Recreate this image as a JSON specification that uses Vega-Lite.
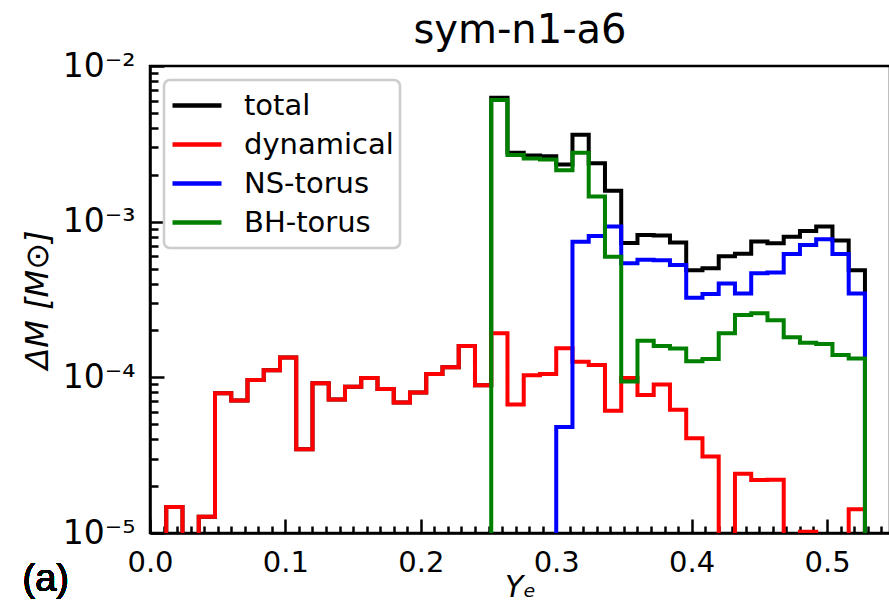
{
  "$schema": "https://vega.github.io/schema/vega-lite/v6.json",
  "width": 740,
  "height": 467,
  "autosize": "none",
  "padding": {"left": 150, "top": 66, "right": 0, "bottom": 70},
  "background": "white",
  "title": {"text": "sym-n1-a6", "font": "DejaVu Sans", "fontSize": 40, "fontWeight": "normal", "color": "black", "anchor": "middle", "offset": -1},
  "config": {"view": {"stroke": "black", "strokeWidth": 2.5}, "font": "DejaVu Sans"},
  "resolve": {"axis": {"x": "independent", "y": "independent"}},
  "data": {"values": [
    {"Ye": 0.0, "total": 1e-7, "dynamical": 1e-7, "NS-torus": 1e-7, "BH-torus": 1e-7},
    {"Ye": 0.012, "total": 1.47e-5, "dynamical": 1.47e-5, "NS-torus": 1e-7, "BH-torus": 1e-7},
    {"Ye": 0.024, "total": 1e-7, "dynamical": 1e-7, "NS-torus": 1e-7, "BH-torus": 1e-7},
    {"Ye": 0.036, "total": 1.27e-5, "dynamical": 1.27e-5, "NS-torus": 1e-7, "BH-torus": 1e-7},
    {"Ye": 0.048, "total": 7.9e-5, "dynamical": 7.9e-5, "NS-torus": 1e-7, "BH-torus": 1e-7},
    {"Ye": 0.06, "total": 7.1e-5, "dynamical": 7.1e-5, "NS-torus": 1e-7, "BH-torus": 1e-7},
    {"Ye": 0.072, "total": 9.6e-5, "dynamical": 9.6e-5, "NS-torus": 1e-7, "BH-torus": 1e-7},
    {"Ye": 0.084, "total": 1.11e-4, "dynamical": 1.11e-4, "NS-torus": 1e-7, "BH-torus": 1e-7},
    {"Ye": 0.096, "total": 1.34e-4, "dynamical": 1.34e-4, "NS-torus": 1e-7, "BH-torus": 1e-7},
    {"Ye": 0.108, "total": 3.45e-5, "dynamical": 3.45e-5, "NS-torus": 1e-7, "BH-torus": 1e-7},
    {"Ye": 0.12, "total": 9.15e-5, "dynamical": 9.15e-5, "NS-torus": 1e-7, "BH-torus": 1e-7},
    {"Ye": 0.132, "total": 7.2e-5, "dynamical": 7.2e-5, "NS-torus": 1e-7, "BH-torus": 1e-7},
    {"Ye": 0.144, "total": 8.7e-5, "dynamical": 8.7e-5, "NS-torus": 1e-7, "BH-torus": 1e-7},
    {"Ye": 0.156, "total": 9.9e-5, "dynamical": 9.9e-5, "NS-torus": 1e-7, "BH-torus": 1e-7},
    {"Ye": 0.168, "total": 8.4e-5, "dynamical": 8.4e-5, "NS-torus": 1e-7, "BH-torus": 1e-7},
    {"Ye": 0.18, "total": 6.9e-5, "dynamical": 6.9e-5, "NS-torus": 1e-7, "BH-torus": 1e-7},
    {"Ye": 0.192, "total": 8.0e-5, "dynamical": 8.0e-5, "NS-torus": 1e-7, "BH-torus": 1e-7},
    {"Ye": 0.204, "total": 1.05e-4, "dynamical": 1.05e-4, "NS-torus": 1e-7, "BH-torus": 1e-7},
    {"Ye": 0.216, "total": 1.16e-4, "dynamical": 1.16e-4, "NS-torus": 1e-7, "BH-torus": 1e-7},
    {"Ye": 0.228, "total": 1.59e-4, "dynamical": 1.59e-4, "NS-torus": 1e-7, "BH-torus": 1e-7},
    {"Ye": 0.24, "total": 8.9e-5, "dynamical": 8.9e-5, "NS-torus": 1e-7, "BH-torus": 1e-7},
    {"Ye": 0.252, "total": 6.25e-3, "dynamical": 1.92e-4, "NS-torus": 1e-7, "BH-torus": 6.05e-3},
    {"Ye": 0.264, "total": 2.77e-3, "dynamical": 6.7e-5, "NS-torus": 1e-7, "BH-torus": 2.68e-3},
    {"Ye": 0.276, "total": 2.66e-3, "dynamical": 1.03e-4, "NS-torus": 1e-7, "BH-torus": 2.55e-3},
    {"Ye": 0.288, "total": 2.63e-3, "dynamical": 1.05e-4, "NS-torus": 1e-7, "BH-torus": 2.51e-3},
    {"Ye": 0.3, "total": 2.33e-3, "dynamical": 1.54e-4, "NS-torus": 4.8e-5, "BH-torus": 2.14e-3},
    {"Ye": 0.312, "total": 3.62e-3, "dynamical": 1.26e-4, "NS-torus": 7.43e-4, "BH-torus": 2.77e-3},
    {"Ye": 0.324, "total": 2.37e-3, "dynamical": 1.2e-4, "NS-torus": 8.1e-4, "BH-torus": 1.45e-3},
    {"Ye": 0.336, "total": 1.58e-3, "dynamical": 6.1e-5, "NS-torus": 9.3e-4, "BH-torus": 5.95e-4},
    {"Ye": 0.348, "total": 7.3e-4, "dynamical": 9.9e-5, "NS-torus": 5.4e-4, "BH-torus": 9.4e-5},
    {"Ye": 0.36, "total": 8.2e-4, "dynamical": 7.7e-5, "NS-torus": 5.7e-4, "BH-torus": 1.72e-4},
    {"Ye": 0.372, "total": 8.15e-4, "dynamical": 9.0e-5, "NS-torus": 5.66e-4, "BH-torus": 1.59e-4},
    {"Ye": 0.384, "total": 7.35e-4, "dynamical": 6.2e-5, "NS-torus": 5.26e-4, "BH-torus": 1.53e-4},
    {"Ye": 0.396, "total": 4.88e-4, "dynamical": 4.06e-5, "NS-torus": 3.25e-4, "BH-torus": 1.27e-4},
    {"Ye": 0.408, "total": 5.02e-4, "dynamical": 3.1e-5, "NS-torus": 3.43e-4, "BH-torus": 1.31e-4},
    {"Ye": 0.42, "total": 6.0e-4, "dynamical": 1e-7, "NS-torus": 4.0e-4, "BH-torus": 1.92e-4},
    {"Ye": 0.432, "total": 6.22e-4, "dynamical": 2.4e-5, "NS-torus": 3.46e-4, "BH-torus": 2.51e-4},
    {"Ye": 0.444, "total": 7.45e-4, "dynamical": 2.19e-5, "NS-torus": 4.66e-4, "BH-torus": 2.58e-4},
    {"Ye": 0.456, "total": 7.27e-4, "dynamical": 2.2e-5, "NS-torus": 4.72e-4, "BH-torus": 2.33e-4},
    {"Ye": 0.468, "total": 8.0e-4, "dynamical": 1e-7, "NS-torus": 6.2e-4, "BH-torus": 1.81e-4},
    {"Ye": 0.48, "total": 8.7e-4, "dynamical": 1.02e-5, "NS-torus": 7.07e-4, "BH-torus": 1.67e-4},
    {"Ye": 0.492, "total": 9.3e-4, "dynamical": 1e-7, "NS-torus": 7.7e-4, "BH-torus": 1.64e-4},
    {"Ye": 0.504, "total": 7.56e-4, "dynamical": 1e-7, "NS-torus": 6.2e-4, "BH-torus": 1.39e-4},
    {"Ye": 0.516, "total": 4.88e-4, "dynamical": 1.42e-5, "NS-torus": 3.46e-4, "BH-torus": 1.32e-4},
    {"Ye": 0.528, "total": 1e-7, "dynamical": 1e-7, "NS-torus": 1e-7, "BH-torus": 1e-7}
  ]},
  "layer": [
    {
      "transform": [{"fold": ["total", "dynamical", "NS-torus", "BH-torus"], "as": ["series", "dM"]}],
      "mark": {"type": "line", "interpolate": "step-after", "strokeWidth": 4, "strokeJoin": "miter", "clip": true},
      "encoding": {
        "x": {
          "field": "Ye", "type": "quantitative",
          "scale": {"domain": [0, 0.5465], "nice": false, "zero": false},
          "axis": {
            "orient": "bottom",
            "values": [0, 0.1, 0.2, 0.3, 0.4, 0.5],
            "format": ".1f",
            "tickSize": -14,
            "tickColor": "black", "tickWidth": 2.5,
            "domainColor": "black", "domainWidth": 2.5,
            "labelFont": "DejaVu Sans", "labelFontSize": 29, "labelColor": "black",
            "labelPadding": 29, "labelFlush": false, "labelOverlap": false,
            "grid": false,
            "title": "Yₑ", "titleFont": "DejaVu Sans", "titleFontSize": 30, "titleFontStyle": "italic", "titleFontWeight": "normal", "titleColor": "black", "titlePadding": -5
          }
        },
        "y": {
          "field": "dM", "type": "quantitative",
          "scale": {"type": "log", "domain": [1e-5, 1e-2], "nice": false},
          "axis": {
            "orient": "left",
            "values": [1e-5, 1e-4, 1e-3, 1e-2],
            "labelExpr": "abs(datum.value-1e-5)<1e-9 ? '10⁻⁵' : abs(datum.value-1e-4)<1e-8 ? '10⁻⁴' : abs(datum.value-1e-3)<1e-7 ? '10⁻³' : abs(datum.value-1e-2)<1e-6 ? '10⁻²' : ''",
            "tickSize": -14,
            "tickColor": "black", "tickWidth": 2.5,
            "domainColor": "black", "domainWidth": 2.5,
            "labelFont": "DejaVu Sans", "labelFontSize": 33, "labelColor": "black",
            "labelPadding": 29, "labelFlush": false, "labelOverlap": false,
            "grid": false,
            "title": "ΔM [M⊙]", "titleFont": "DejaVu Sans", "titleFontSize": 32, "titleFontStyle": "italic", "titleFontWeight": "normal", "titleColor": "black", "titlePadding": 8
          }
        },
        "color": {
          "field": "series", "type": "nominal",
          "scale": {"domain": ["total", "dynamical", "NS-torus", "BH-torus"], "range": ["#000000", "#ff0000", "#0000ff", "#008000"]},
          "legend": {
            "orient": "none", "legendX": 14, "legendY": 14, "title": null,
            "symbolType": "stroke", "symbolSize": 2400, "symbolStrokeWidth": 4.5,
            "labelFont": "DejaVu Sans", "labelFontSize": 29, "labelColor": "black", "labelOffset": 20,
            "clipHeight": 39, "rowPadding": 0, "padding": 6,
            "fillColor": "rgba(255,255,255,0.8)", "strokeColor": "#cccccc", "cornerRadius": 6,
            "encode": {"legend": {"update": {"strokeWidth": {"value": 2.5}}}}
          }
        }
      }
    },
    {
      "mark": {"type": "text", "text": "(a)", "font": "Liberation Sans", "fontSize": 38, "color": "black", "align": "center", "baseline": "middle", "clip": false},
      "encoding": {
        "x": {
          "datum": -0.077, "type": "quantitative",
          "axis": {
            "orient": "bottom",
            "values": [0.01,0.02,0.03,0.04,0.05,0.06,0.07,0.08,0.09,0.11,0.12,0.13,0.14,0.15,0.16,0.17,0.18,0.19,0.21,0.22,0.23,0.24,0.25,0.26,0.27,0.28,0.29,0.31,0.32,0.33,0.34,0.35,0.36,0.37,0.38,0.39,0.41,0.42,0.43,0.44,0.45,0.46,0.47,0.48,0.49,0.51,0.52,0.53,0.54],
            "tickSize": -7, "tickColor": "black", "tickWidth": 2.5,
            "domain": false, "labels": false, "grid": false, "title": null
          }
        },
        "y": {
          "datum": 5e-6, "type": "quantitative",
          "axis": {
            "orient": "left",
            "values": [2e-5,3e-5,4e-5,5e-5,6e-5,7e-5,8e-5,9e-5,2e-4,3e-4,4e-4,5e-4,6e-4,7e-4,8e-4,9e-4,2e-3,3e-3,4e-3,5e-3,6e-3,7e-3,8e-3,9e-3],
            "tickSize": -8, "tickColor": "black", "tickWidth": 2.5,
            "domain": false, "labels": false, "grid": false, "title": null
          }
        }
      }
    }
  ]
}
